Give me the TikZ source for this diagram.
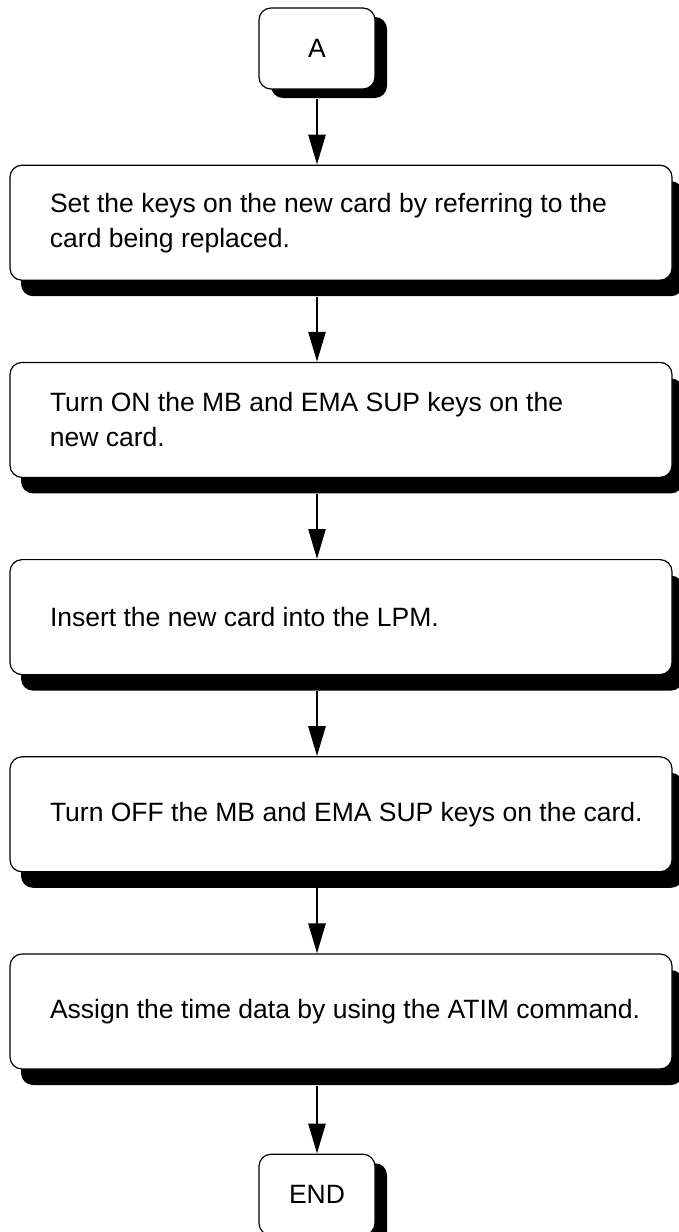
\documentclass[tikz,border=0pt]{standalone}
\usepackage{fontspec}
\setmainfont{Liberation Sans}
\usetikzlibrary{arrows.meta,positioning,calc,shadows}
\tikzset{
 boxbase/.style={draw,line width=0.6pt,fill=white,rounded corners=6pt,inner sep=0pt,font=\fontsize{13.25pt}{17.5pt}\selectfont},
 term/.style={boxbase,minimum width=58pt,minimum height=40.5pt,general shadow={fill=black,shadow xshift=6pt,shadow yshift=-4.5pt}},
 stepbox/.style={boxbase,minimum width=331pt,minimum height=57.5pt,text width=310pt,inner xsep=10.5pt,align=flush left,execute at begin node={\leftskip=9.5pt},general shadow={fill=black,shadow xshift=5.5pt,shadow yshift=-8pt}},
 arr/.style={-{Triangle[length=15pt,width=8.5pt]},line width=1.3pt}
}
\begin{document}
\begin{tikzpicture}[node distance=40.5pt]
\useasboundingbox (0,0) rectangle (339.5pt,-616pt);
\node[term] (a) at (158.5pt,-24.25pt) {A};
\node[stepbox,below=37.5pt of a,xshift=12pt] (b1) {Set the keys on the new card by referring to the\\card being replaced.};
\node[stepbox,below=of b1] (b2) {Turn ON the MB and EMA SUP keys on the\\new card.};
\node[stepbox,below=of b2] (b3) {Insert the new card into the LPM.};
\node[stepbox,below=of b3] (b4) {Turn OFF the MB and EMA SUP keys on the card.};
\node[stepbox,below=of b4] (b5) {Assign the time data by using the ATIM command.};
\node[term,below=42pt of b5,xshift=-12pt] (e) {END};
\draw[arr] ($(a.south)+(0,-4.5pt)$) -- (a.south |- b1.north);
\foreach \x/\y in {b1/b2,b2/b3,b3/b4,b4/b5,b5/e} \draw[arr] ($(\x.south -| a)+(0,-8pt)$) -- (\y.north -| a);
\end{tikzpicture}
\end{document}
